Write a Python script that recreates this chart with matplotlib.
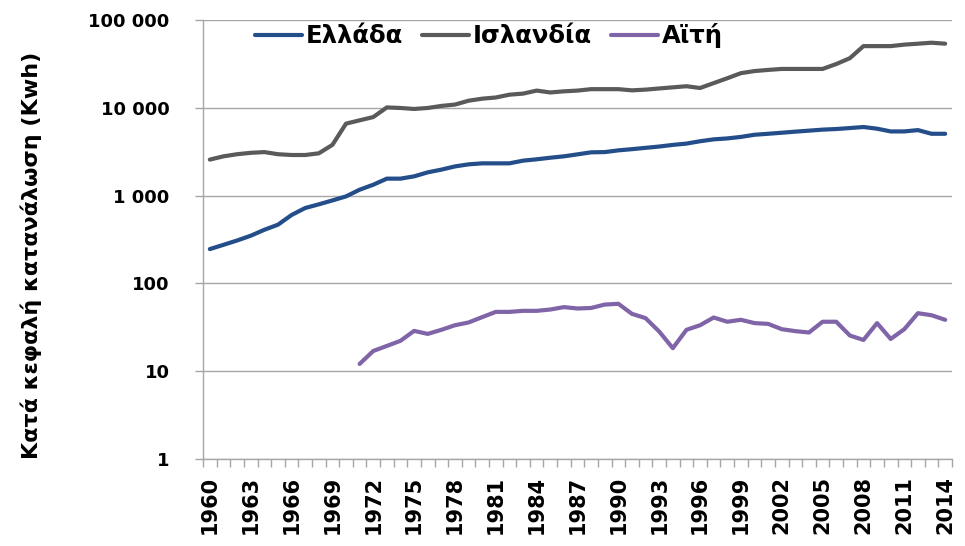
import numpy as np
import matplotlib.pyplot as plt
from matplotlib.ticker import FixedLocator, NullFormatter

plt.rcParams['font.family'] = ['DejaVu Sans']

# ----------------data----------------
years = list(range(1960, 2015))

greece = [246, 275, 308, 349, 408, 466, 601, 722, 795, 881,
          979, 1167, 1330, 1560, 1560, 1656, 1840, 1975, 2150, 2270,
          2330, 2330, 2330, 2500, 2590, 2700, 2800, 2950, 3110, 3130,
          3275, 3380, 3500, 3620, 3780, 3910, 4160, 4370, 4480, 4660,
          4930, 5060, 5200, 5350, 5490, 5640, 5730, 5880, 6040, 5780,
          5380, 5380, 5570, 5060, 5060]

iceland = [2570, 2800, 2960, 3070, 3130, 2960, 2900, 2900, 3030, 3780,
           6600, 7200, 7840, 10100, 9950, 9700, 9950, 10500, 10880, 12040,
           12700, 13100, 14100, 14500, 15700, 14950, 15400, 15700, 16300, 16300,
           16300, 15800, 16100, 16600, 17100, 17600, 16800, 19100, 21700, 24800,
           26200, 27000, 27700, 27700, 27700, 27700, 31500, 36700, 50400, 50400,
           50400, 52400, 53700, 55100, 53700]

# Haiti: no data before 1971
haiti = [np.nan] * 11 + [
    12.1, 17.0, 19.4, 22.2, 28.8, 26.6, 29.6, 33.4, 35.9,
    41.3, 47.4, 47.4, 48.7, 48.7, 50.4, 53.7, 51.8, 52.5, 57.4,
    58.6, 45.0, 40.2, 28.3, 18.3, 29.6, 33.4, 40.9, 36.6, 38.5,
    35.3, 34.6, 30.1, 28.6, 27.6, 36.6, 36.6, 25.5, 22.7, 35.3,
    23.3, 30.1, 45.8, 43.4, 38.5]

series_names = ['Ελλάδα', 'Ισλανδία', 'Αϊτή']
series_colors = ['#234E8A', '#5A5A5A', '#8064A8']

y_ticks = [1, 10, 100, 1000, 10000, 100000]
y_tick_labels = ['1', '10', '100', '1 000', '10 000', '100 000']
ylabel = 'Κατά κεφαλή κατανάλωση (Kwh)'

# ----------------plot----------------
fig = plt.figure(figsize=(9.65, 5.46), dpi=100)
ax = fig.add_axes([0.2104, 0.1593, 0.7761, 0.8041])

x = np.arange(len(years))
for values, name, color in zip([greece, iceland, haiti], series_names, series_colors):
    ax.plot(x, values, color=color, lw=3, label=name, solid_capstyle='round')

ax.set_yscale('log')
ax.set_ylim(1, 100000)
ax.yaxis.set_major_locator(FixedLocator(y_ticks))
ax.set_yticklabels(y_tick_labels)
ax.yaxis.set_minor_formatter(NullFormatter())
ax.yaxis.set_minor_locator(FixedLocator([]))
ax.grid(axis='y', color='#A6A6A6', lw=1.0)
ax.set_axisbelow(True)

# category axis: ticks at category boundaries, labels every 3 years
ax.set_xlim(-0.5, len(years) - 0.5)
label_pos = x[::3]
ax.set_xticks(label_pos)
ax.set_xticklabels([str(years[i]) for i in label_pos], rotation=90)
ax.set_xticks(np.arange(-0.5, len(years)), minor=True)
ax.tick_params(axis='x', which='major', length=0, pad=12)
ax.tick_params(axis='x', which='minor', length=6, color='#A6A6A6', width=1)
ax.tick_params(axis='y', which='major', length=6, color='#A6A6A6', width=1, pad=18)

for lbl in ax.get_yticklabels():
    lbl.set_fontsize(13)
    lbl.set_fontweight('bold')
for lbl in ax.get_xticklabels():
    lbl.set_fontsize(15)
    lbl.set_fontweight('bold')

for side in ['top', 'right']:
    ax.spines[side].set_visible(False)
for side in ['left', 'bottom']:
    ax.spines[side].set_color('#A6A6A6')
    ax.spines[side].set_linewidth(1)

ax.set_ylabel(ylabel, fontsize=16, fontweight='bold', va='center')
ax.yaxis.set_label_coords(-0.229, 0.4636)

ax.legend(loc='center left', bbox_to_anchor=(0.0694, 0.9643), ncol=3, frameon=False,
          prop={'size': 17.5, 'weight': 'bold'}, handlelength=1.93, handletextpad=0.15,
          columnspacing=0.8, borderpad=0, borderaxespad=0)

fig.savefig('out.png', dpi=100)
